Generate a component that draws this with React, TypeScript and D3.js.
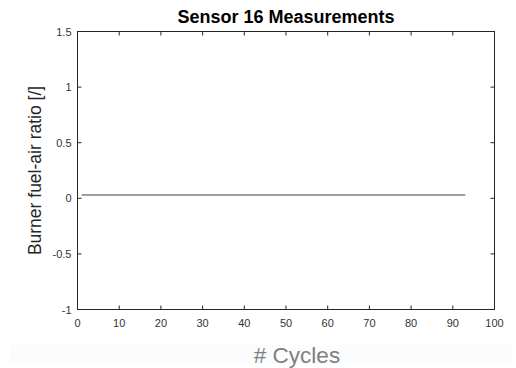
import React from "react";
import * as d3 from "d3";

const cycles: number[] = [
  1, 2, 3, 4, 5, 6, 7, 8, 9, 10, 11, 12, 13, 14, 15, 16, 17, 18, 19, 20,
  21, 22, 23, 24, 25, 26, 27, 28, 29, 30, 31, 32, 33, 34, 35, 36, 37, 38, 39, 40,
  41, 42, 43, 44, 45, 46, 47, 48, 49, 50, 51, 52, 53, 54, 55, 56, 57, 58, 59, 60,
  61, 62, 63, 64, 65, 66, 67, 68, 69, 70, 71, 72, 73, 74, 75, 76, 77, 78, 79, 80,
  81, 82, 83, 84, 85, 86, 87, 88, 89, 90, 91, 92, 93,
];
const ratio: number[] = [
  0.03, 0.03, 0.03, 0.03, 0.03, 0.03, 0.03, 0.03, 0.03, 0.03, 0.03, 0.03, 0.03, 0.03, 0.03, 0.03, 0.03, 0.03, 0.03, 0.03,
  0.03, 0.03, 0.03, 0.03, 0.03, 0.03, 0.03, 0.03, 0.03, 0.03, 0.03, 0.03, 0.03, 0.03, 0.03, 0.03, 0.03, 0.03, 0.03, 0.03,
  0.03, 0.03, 0.03, 0.03, 0.03, 0.03, 0.03, 0.03, 0.03, 0.03, 0.03, 0.03, 0.03, 0.03, 0.03, 0.03, 0.03, 0.03, 0.03, 0.03,
  0.03, 0.03, 0.03, 0.03, 0.03, 0.03, 0.03, 0.03, 0.03, 0.03, 0.03, 0.03, 0.03, 0.03, 0.03, 0.03, 0.03, 0.03, 0.03, 0.03,
  0.03, 0.03, 0.03, 0.03, 0.03, 0.03, 0.03, 0.03, 0.03, 0.03, 0.03, 0.03, 0.03,
];
const xTicks: number[] = [0, 10, 20, 30, 40, 50, 60, 70, 80, 90, 100];
const yTicks: number[] = [-1, -0.5, 0, 0.5, 1, 1.5];

const W = 516;
const H = 368;
const L = 77.5;
const R = 494.5;
const T = 31.5;
const B = 309.5;

export default function App() {
  const x = d3.scaleLinear().domain([0, 100]).range([L, R]);
  const y = d3.scaleLinear().domain([-1, 1.5]).range([B, T]);
  const line = d3
    .line<number>()
    .x((_, i) => x(cycles[i]))
    .y((d) => y(d));
  const axisColor = "#262626";
  const font = "'Liberation Sans', Arial, Helvetica, sans-serif";
  const tl = 4;
  return (
    <svg
      width={W}
      height={H}
      style={{ position: "absolute", left: 0, top: 0, background: "#fff" }}
      fontFamily={font}
    >
      <rect x={10} y={345} width={502} height={19} fill="#fbfcfe" />
      <rect x={L} y={T} width={R - L} height={B - T} fill="#fff" />
      <path d={line(ratio) || ""} fill="none" stroke="#808080" strokeWidth={1.4} />
      {xTicks.map((t) => (
        <g key={"x" + t}>
          <line x1={x(t)} x2={x(t)} y1={B} y2={B - tl} stroke={axisColor} strokeWidth={1} />
          <line x1={x(t)} x2={x(t)} y1={T} y2={T + tl} stroke={axisColor} strokeWidth={1} />
          <text x={x(t)} y={327} fontSize={11} fill="#333" textAnchor="middle">
            {t}
          </text>
        </g>
      ))}
      {yTicks.map((t) => (
        <g key={"y" + t}>
          <line x1={L} x2={L + tl} y1={y(t)} y2={y(t)} stroke={axisColor} strokeWidth={1} />
          <line x1={R} x2={R - tl} y1={y(t)} y2={y(t)} stroke={axisColor} strokeWidth={1} />
          <text x={L - 6} y={y(t) + 4} fontSize={11} fill="#333" textAnchor="end">
            {t}
          </text>
        </g>
      ))}
      <rect x={L} y={T} width={R - L} height={B - T} fill="none" stroke={axisColor} strokeWidth={1} />
      <text x={(L + R) / 2} y={23} fontSize={18} fontWeight="bold" fill="#000" textAnchor="middle">
        Sensor 16 Measurements
      </text>
      <text
        transform={`translate(41,${(T + B) / 2}) rotate(-90)`}
        fontSize={17.5}
        fill="#262626"
        textAnchor="middle"
      >
        Burner fuel-air ratio [/]
      </text>
      <text x={297} y={363} fontSize={22.5} fill="#808080" textAnchor="middle">
        # Cycles
      </text>
    </svg>
  );
}
